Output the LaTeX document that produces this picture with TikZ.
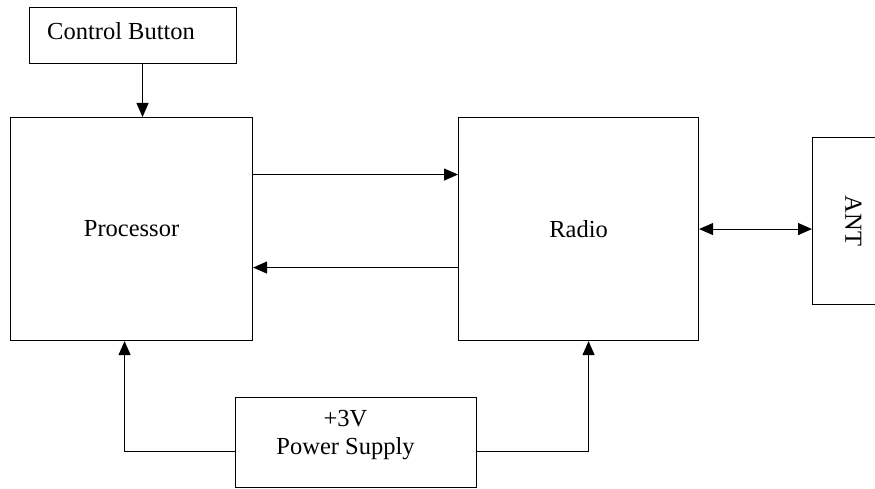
\documentclass[tikz,border=0pt]{standalone}
\usepackage{fontspec}
\setmainfont{Liberation Serif}
\usetikzlibrary{arrows.meta}

\tikzset{
    block/.style={draw, black, line width=1.1pt, anchor=north west, inner sep=0pt},
    flow/.style={black, line width=1.1pt, -{Triangle[length=14pt, width=12pt]}},
    bothflow/.style={black, line width=1.1pt, {Triangle[length=14pt, width=12pt]}-{Triangle[length=14pt, width=12pt]}},
}

\begin{document}
\begin{tikzpicture}[x=1pt, y=-1pt, font=\fontsize{24.5}{28}\selectfont]

    % --- Canvas ---
    \clip (0,0) rectangle (875,489);

    % ==========================================
    % --- Blocks ---
    % ==========================================
    \node[block, minimum width=207pt, minimum height=56pt] (ctrl) at (29,7) {};
    \node[anchor=west, inner sep=0pt] (ctrl-text) at ([xshift=18pt, yshift=4pt]ctrl.west) {Control Button};

    \node[block, minimum width=242pt, minimum height=223pt] (proc) at (10,117) {Processor};
    \node[block, minimum width=240pt, minimum height=223pt] (radio) at (458,117) {Radio};

    % Antenna block runs off the right edge
    \node[block, minimum width=82pt, minimum height=167pt] (ant) at (812,137) {\rotatebox{-90}{ANT}};

    \node[block, minimum width=241pt, minimum height=90pt] (psu) at (235,397) {};
    \node[align=center, inner sep=0pt] (psu-text) at ([xshift=-10.5pt, yshift=8pt]psu.center) {+3V\\Power Supply};

    % ==========================================
    % --- Connectors ---
    % ==========================================
    \draw[flow] ([xshift=9.5pt]ctrl.south) -- ([xshift=9.5pt]ctrl.south |- proc.north);

    % Processor <-> Radio data lines
    \draw[flow] ([yshift=54.5pt]proc.east) -- ([yshift=54.5pt]proc.east -| radio.west);
    \draw[flow] ([yshift=-38.5pt]radio.west) -- ([yshift=-38.5pt]radio.west -| proc.east);

    % Radio <-> antenna
    \draw[bothflow] (radio.east) -- (radio.east -| ant.west);

    % Supply rails
    \draw[flow] ([yshift=-9pt]psu.west) -| ([xshift=-7pt]proc.south);
    \draw[flow] ([yshift=-9pt]psu.east) -| ([xshift=10pt]radio.south);

\end{tikzpicture}
\end{document}
